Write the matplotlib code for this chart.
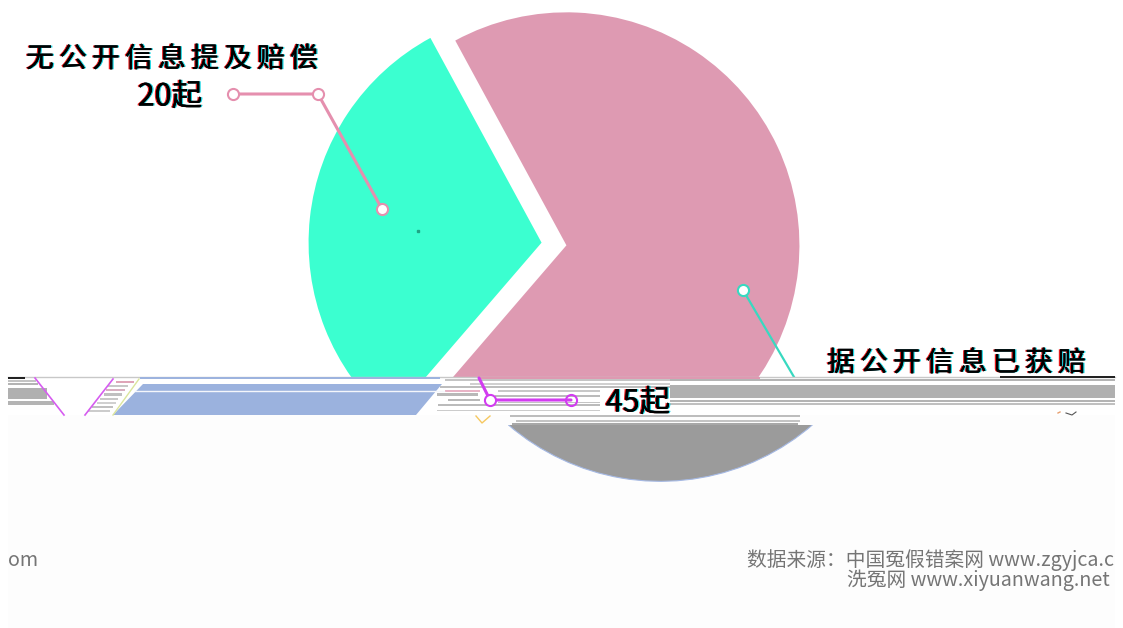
import matplotlib.pyplot as plt
import matplotlib.patheffects as pe
from matplotlib.patches import Rectangle

plt.rcParams['font.family'] = ['Noto Sans CJK SC', 'DejaVu Sans']

H = 628
labels = ['无公开信息提及赔偿', '据公开信息已获赔']
counts = [20, 45]
colors = ['#3bffd0', '#de9ab2']

# broken rows of the image: (top, bottom, left, right, colour)
stripes = [
    (376, 377.5, 1000, 1115, '#222222'), (377, 378.5, 8, 25, '#222222'),
    (379, 381, 670, 1115, '#b4b4b4'), (385, 398, 670, 1115, '#b0b0b0'),
    (400, 402, 670, 1115, '#b4b4b4'), (403, 405, 670, 1115, '#c0c0c0'),
    (380, 382, 8, 36, '#c4c4c4'), (383, 385, 8, 38, '#b4b4b4'),
    (388, 399, 8, 47, '#b0b0b0'), (401, 405, 8, 54, '#b4b4b4'),
    (381, 383, 116, 134, '#dfa5b8'), (385, 387, 108, 128, '#c8c8c8'),
    (389, 391, 106, 125, '#d8b0c0'), (393, 396, 104, 122, '#c0c0c0'),
    (398, 400, 100, 118, '#c8c8c8'), (402, 404, 97, 116, '#d0d0d0'),
    (406, 408, 92, 113, '#c0c0c0'), (410, 412, 88, 110, '#cccccc'),
    (379, 381, 445, 670, '#c4c4c4'), (383, 385, 470, 670, '#d0d0d0'),
    (386, 388, 440, 670, '#bdbdbd'), (390, 392, 445, 480, '#e8b4c6'),
    (390, 392, 498, 600, '#c8c8c8'), (393, 396, 437, 478, '#b8b8b8'),
    (395, 397, 495, 600, '#bbbbbb'), (399, 401, 448, 480, '#b8b8b8'),
    (402, 403, 498, 600, '#c4c4c4'), (404, 406, 438, 600, '#bbbbbb'),
    (410, 411, 437, 600, '#cccccc'), (415, 416.5, 510, 800, '#bdbdbd'),
    (423, 425, 512, 798, '#a8a8a8'), (420, 421.5, 516, 800, '#c4c4c4'),
]

fig = plt.figure(figsize=(11.23, 6.28), dpi=100)
ax = fig.add_axes([0, 0, 1, 1])


def py(y):
    return H - y


# main pie
ax.pie(counts, colors=colors, startangle=118.5, explode=[12.5, 12.5],
       center=(554, py(244)), radius=233)

# lower part of the picture is the same pie moved to the right, in grey
lower, _ = ax.pie(counts, colors=['none', '#9b9b9b'], startangle=118.5,
                  explode=[12.5, 12.5], center=(648, py(247)), radius=233)
clip = Rectangle((0, 0), 1123, py(425), transform=ax.transData)
lower[1].set_edgecolor('#a5b9e4')
lower[1].set_linewidth(0.8)
lower[1].set_zorder(4)
lower[1].set_clip_on(True)
lower[1].set_clip_path(clip)

ax.set_xlim(0, 1123)
ax.set_ylim(0, H)
ax.set_aspect('auto')
ax.axis('off')

# torn band across the middle
ax.fill_between([8, 1115], py(377), py(415), color='white', zorder=2, lw=0)
ax.fill_between([8, 1115], py(415), 0, color='#fdfdfd', zorder=2, lw=0)
ax.plot([8, 1115], [py(377), py(377)], color='#c8c8c8', lw=1, zorder=3)
ax.fill_between([480, 760], py(377), py(379), color='#de9ab2', zorder=3, lw=0)
ax.fill_between([140, 440], py(377), py(379), color='#9db3de', zorder=3, lw=0)

for top, bottom, left, right, c in stripes:
    ax.fill_between([left, right], py(top), py(bottom), color=c, zorder=3, lw=0)

ax.fill([143, 442, 416, 113], [py(384), py(384), py(415), py(415)],
        color='#9bb2de', lw=0, zorder=4)
ax.plot([135, 444], [py(390.5), py(390.5)], color='#f4f6fb', lw=1, zorder=5)
ax.plot([139, 113], [py(379), py(415)], color='#dbe59c', lw=1, zorder=5)
ax.plot([35, 64], [py(378), py(415)], color='#d65cf0', lw=1.2, zorder=5)
ax.plot([85, 113], [py(415), py(379)], color='#d65cf0', lw=1.2, zorder=5)
ax.plot([476, 482, 490], [py(416), py(423), py(416)], color='#f6c860', lw=1, zorder=5)
ax.plot([1058, 1060], [py(413), py(412)], color='#e8a070', lw=1, zorder=5)
ax.plot([1066, 1072, 1076], [py(413), py(415), py(412)], color='#555555', lw=0.8, zorder=5)
ax.plot([418], [py(231)], marker='s', ms=1.5, color='#1fa585', zorder=5)


def leader(xs, ys, c, z=6):
    ax.plot(xs, [py(v) for v in ys], color=c, lw=2.2, zorder=z, solid_capstyle='round')


# leader lines
leader([233, 318, 382], [94, 94, 209], '#e58fae')
for x, y in zip([233, 318, 382], [94, 94, 209]):
    ax.plot([x], [py(y)], 'o', ms=8, mfc='white', mec='#e58fae', mew=1.5, zorder=7)
ax.plot([743, 794], [py(290), py(377)], color='#38d9c0', lw=1.6, zorder=1.5)
ax.plot([743], [py(290)], 'o', ms=8, mfc='white', mec='#38d9c0', mew=1.5, zorder=1.6)
leader([479, 490, 571], [378, 400, 400], '#d23cf0')
ax.plot([490], [py(400)], 'o', ms=8, mfc='white', mec='#d23cf0', mew=1.5, zorder=7)
ax.plot([571], [py(400)], 'o', ms=8, mfc='none', mec='#d23cf0', mew=1.5, zorder=7)

fringe = [pe.withSimplePatchShadow(offset=(-1, 0), shadow_rgbFace='#e00000', alpha=0.9),
          pe.withSimplePatchShadow(offset=(1, 0), shadow_rgbFace='#00d0e0', alpha=0.9),
          pe.Normal()]


def spaced(s, x0, y, z):
    for i, ch in enumerate(s):
        ax.text(x0 + i * 33, py(y), ch, fontsize=20, fontweight='medium', color='black',
                ha='center', va='center', zorder=z, path_effects=fringe)


spaced(labels[0], 40, 59, 8)
spaced(labels[1], 841, 363, 1.8)
ax.text(170, py(97), f'{counts[0]}起', fontsize=22, color='black', ha='center', va='center',
        zorder=8, path_effects=fringe)
ax.text(638, py(403), f'{counts[1]}起', fontsize=22, color='black', ha='center', va='center',
        zorder=8, path_effects=fringe)

# source text, the end of the first line wraps round to the left edge
ax.text(747, py(560), '数据来源：中国冤假错案网 www.zgyjca.c', fontsize=14.2, color='#757575',
        ha='left', va='center', zorder=8, fontweight='light')
ax.text(847, py(580), '洗冤网 www.xiyuanwang.net', fontsize=14.2, color='#757575',
        ha='left', va='center', zorder=8, fontweight='light')
ax.text(8, py(561), 'om', fontsize=14.2, color='#757575', ha='left', va='center',
        zorder=8, fontweight='light')

plt.savefig('out.png', dpi=100)
